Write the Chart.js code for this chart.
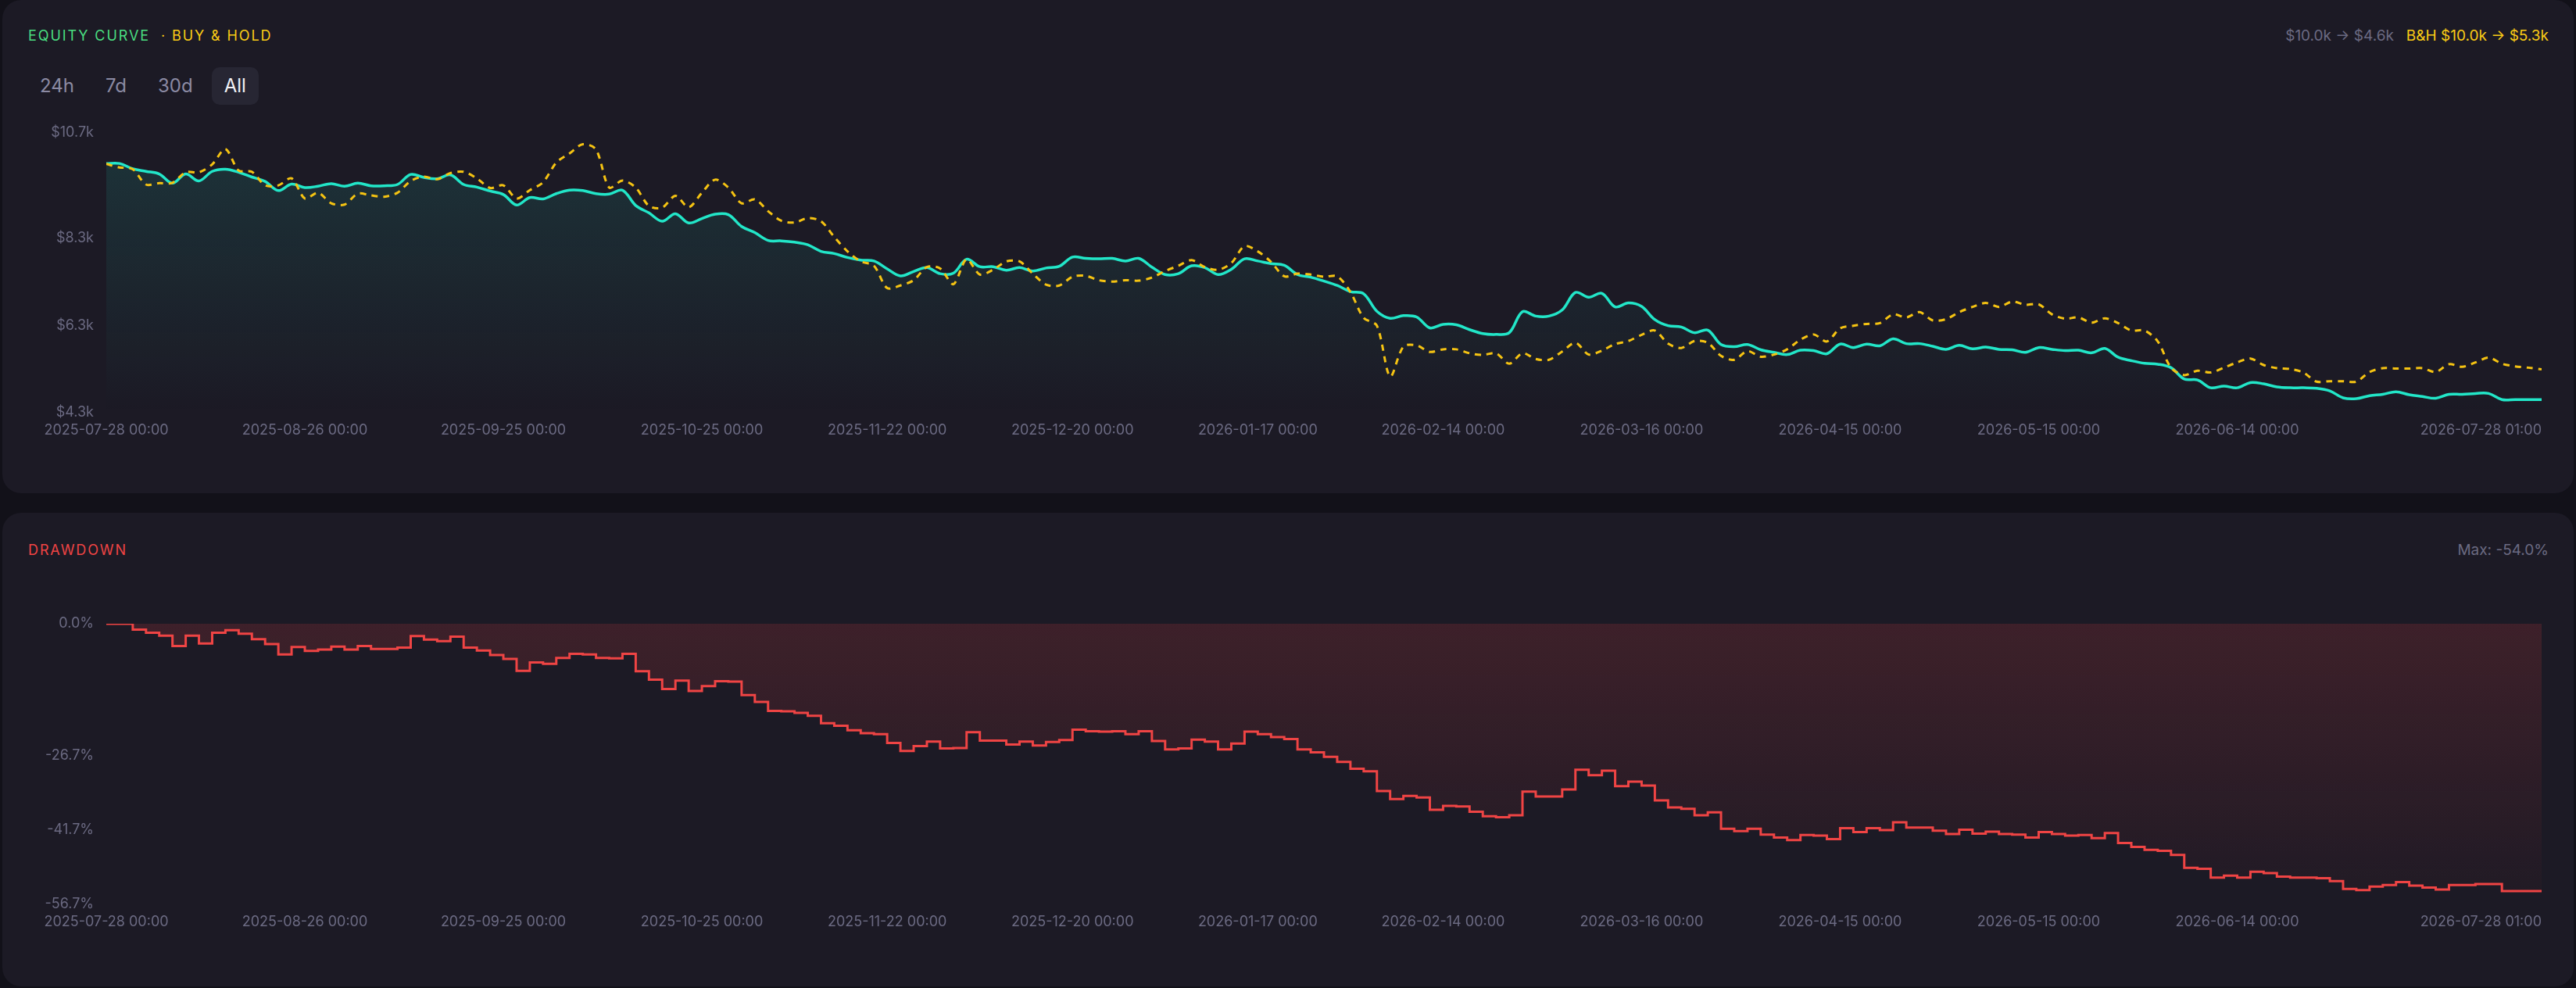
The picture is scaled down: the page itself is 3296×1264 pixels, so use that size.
<!DOCTYPE html>
<html>
<head>
<meta charset="utf-8">
<title>Equity curve</title>
<script src="https://cdn.jsdelivr.net/npm/chart.js@4.4.1/dist/chart.umd.min.js"></script>
<style>
  html, body { margin: 0; padding: 0; background: #121119; }
  body { width: 3296px; height: 1264px; position: relative; overflow: hidden; font-family: Inter, 'Noto Sans', sans-serif; }
  .card { position: absolute; left: 3px; width: 3290px; background: #1c1a25; border-radius: 24px; }
  #card1 { top: 0; height: 631px; }
  #card2 { top: 656px; height: 606px; }
  .title { position: absolute; left: 33px; font-size: 18px; font-weight: 400; letter-spacing: 1.9px; line-height: 22px; white-space: nowrap; }
  #card1 .title { top: 35px; color: #4ade80; }
  #card2 .title { top: 37px; color: #ef4444; }
  .title .bh { color: #facc15; margin-left: 14px; }
  .stats { position: absolute; right: 32px; font-size: 19px; line-height: 22px; color: #6b6a82; white-space: nowrap; }
  #card1 .stats { top: 35px; }
  #card2 .stats { top: 37px; }
  .stats .bh { color: #facc15; margin-left: 16px; }
  .ranges { position: absolute; left: 32px; top: 86px; display: flex; gap: 8px; }
  .ranges span { height: 48px; line-height: 48px; padding: 0 16px; font-size: 24px; font-weight: 400; color: #8b8aa3; border-radius: 10px; }
  .ranges span.on { background: #272633; color: #f2f2f6; }
  .wrap { position: absolute; left: 36px; width: 3216px; }
  #wrap1 { top: 150px; height: 418px; }
  #wrap2 { top: 778px; height: 419px; }
</style>
</head>
<body>

<div class="card" id="card1">
  <div class="title">EQUITY CURVE<span class="bh">· BUY &amp; HOLD</span></div>
  <div class="stats">$10.0k → $4.6k<span class="bh">B&amp;H $10.0k → $5.3k</span></div>
  <div class="ranges"><span>24h</span><span>7d</span><span>30d</span><span class="on">All</span></div>
</div>
<div class="card" id="card2">
  <div class="title">DRAWDOWN</div>
  <div class="stats">Max: -54.0%</div>
</div>

<div class="wrap" id="wrap1"><canvas id="equity"></canvas></div>
<div class="wrap" id="wrap2"><canvas id="drawdown"></canvas></div>

<script>
// one point per bar, bars are evenly spaced on the time axis
const xTickIndex = [0, 15, 30, 45, 59, 73, 87, 101, 116, 131, 146, 161, 184];
const xTickLabels = [
    '2025-07-28 00:00', '2025-08-26 00:00', '2025-09-25 00:00', '2025-10-25 00:00',
    '2025-11-22 00:00', '2025-12-20 00:00', '2026-01-17 00:00', '2026-02-14 00:00',
    '2026-03-16 00:00', '2026-04-15 00:00', '2026-05-15 00:00', '2026-06-14 00:00',
    '2026-07-28 01:00'
];

const equityTicks = [4300, 6300, 8300, 10700];
const drawdownTicks = [-56.7, -41.7, -26.7, 0];

const equity = [
    10000,10000,9880,9820,9760,9550,9760,9600,9820,9870,
    9800,9690,9590,9380,9530,9450,9480,9540,9480,9550,
    9490,9490,9520,9750,9680,9650,9740,9520,9460,9370,
    9290,9050,9220,9190,9310,9390,9380,9310,9300,9390,
    9040,8870,8680,8850,8640,8740,8840,8830,8560,8420,
    8240,8230,8200,8140,7990,7940,7850,7790,7770,7590,
    7430,7530,7620,7480,7490,7810,7640,7640,7560,7620,
    7540,7610,7650,7860,7830,7820,7830,7770,7830,7630,
    7460,7480,7660,7620,7460,7580,7820,7770,7710,7670,
    7460,7400,7310,7210,7070,7020,6620,6460,6520,6490,
    6240,6320,6310,6200,6110,6090,6130,6610,6510,6510,
    6650,7050,6940,7030,6720,6810,6730,6430,6290,6260,
    6130,6190,5860,5810,5860,5740,5680,5630,5730,5720,
    5650,5870,5790,5870,5830,5990,5880,5880,5820,5750,
    5840,5760,5800,5750,5740,5680,5790,5750,5720,5730,
    5670,5770,5570,5490,5430,5410,5330,5070,5050,4870,
    4910,4870,4990,4960,4890,4870,4870,4860,4800,4640,
    4620,4690,4720,4780,4710,4670,4630,4720,4720,4740,
    4740,4600,4600,4600,4600
];

const buyHold = [
    9990,9910,9870,9520,9550,9560,9800,9800,9980,10330,
    9840,9810,9500,9500,9660,9200,9330,9090,9060,9310,
    9270,9240,9330,9600,9700,9640,9780,9810,9660,9440,
    9500,9200,9390,9570,10020,10230,10440,10320,9450,9610,
    9450,9030,8990,9260,9000,9330,9630,9450,9090,9180,
    8910,8690,8650,8750,8680,8320,7990,7760,7660,7150,
    7210,7330,7630,7600,7240,7810,7460,7570,7760,7760,
    7480,7230,7210,7410,7430,7330,7300,7330,7320,7390,
    7540,7660,7790,7630,7570,7720,8110,7990,7750,7420,
    7480,7460,7410,7420,7060,6470,6290,5130,5810,5840,
    5690,5750,5750,5660,5620,5660,5420,5660,5530,5510,
    5700,5900,5630,5720,5870,5940,6080,6180,5880,5780,
    5940,5900,5600,5510,5710,5580,5630,5750,5970,6090,
    5930,6230,6290,6330,6350,6550,6480,6600,6410,6440,
    6600,6720,6810,6720,6840,6770,6780,6550,6450,6480,
    6360,6460,6350,6180,6180,5930,5330,5160,5260,5220,
    5330,5450,5540,5390,5320,5300,5220,5010,5020,5020,
    5010,5230,5320,5310,5310,5320,5230,5410,5350,5450,
    5560,5420,5360,5330,5290
];

const drawdown = [
    0,0,-1.2,-1.8,-2.4,-4.5,-2.4,-4.0,-1.8,-1.3,
    -2.0,-3.1,-4.1,-6.2,-4.7,-5.5,-5.2,-4.6,-5.2,-4.5,
    -5.1,-5.1,-4.8,-2.5,-3.2,-3.5,-2.6,-4.8,-5.4,-6.3,
    -7.1,-9.5,-7.8,-8.1,-6.9,-6.1,-6.2,-6.9,-7.0,-6.1,
    -9.6,-11.3,-13.2,-11.5,-13.6,-12.6,-11.6,-11.7,-14.4,-15.8,
    -17.6,-17.7,-18.0,-18.6,-20.1,-20.6,-21.5,-22.1,-22.3,-24.1,
    -25.7,-24.7,-23.8,-25.2,-25.1,-21.9,-23.6,-23.6,-24.4,-23.8,
    -24.6,-23.9,-23.5,-21.4,-21.7,-21.8,-21.7,-22.3,-21.7,-23.7,
    -25.4,-25.2,-23.4,-23.8,-25.4,-24.2,-21.8,-22.3,-22.9,-23.3,
    -25.4,-26.0,-26.9,-27.9,-29.3,-29.8,-33.8,-35.4,-34.8,-35.1,
    -37.6,-36.8,-36.9,-38.0,-38.9,-39.1,-38.7,-33.9,-34.9,-34.9,
    -33.5,-29.5,-30.6,-29.7,-32.8,-31.9,-32.7,-35.7,-37.1,-37.4,
    -38.7,-38.1,-41.4,-41.9,-41.4,-42.6,-43.2,-43.7,-42.7,-42.8,
    -43.5,-41.3,-42.1,-41.3,-41.7,-40.1,-41.2,-41.2,-41.8,-42.5,
    -41.6,-42.4,-42.0,-42.5,-42.6,-43.2,-42.1,-42.5,-42.8,-42.7,
    -43.3,-42.3,-44.3,-45.1,-45.7,-45.9,-46.7,-49.3,-49.5,-51.3,
    -50.9,-51.3,-50.1,-50.4,-51.1,-51.3,-51.3,-51.4,-52.0,-53.6,
    -53.8,-53.1,-52.8,-52.2,-52.9,-53.3,-53.7,-52.8,-52.8,-52.6,
    -52.6,-54.0,-54.0,-54.0,-54.0
];

Chart.defaults.font.family = "Inter, 'Noto Sans', sans-serif";
Chart.defaults.font.size = 18;
Chart.defaults.color = '#6b6a82';

function points(values) {
    return values.map((v, i) => ({x: i, y: v}));
}

function fade(rgb, top, bottom) {
    return function (context) {
        const area = context.chart.chartArea;
        if (!area) return 'transparent';
        const g = context.chart.ctx.createLinearGradient(0, area.top, 0, area.bottom);
        g.addColorStop(0, 'rgba(' + rgb + ',' + top + ')');
        g.addColorStop(1, 'rgba(' + rgb + ',' + bottom + ')');
        return g;
    };
}

// x axis shared by both charts: first label centred, last one kept inside
function timeAxis() {
    return {
        type: 'linear',
        min: 0,
        max: equity.length - 1,
        grid: {display: false, drawTicks: false},
        border: {display: false},
        afterBuildTicks: function (scale) {
            scale.ticks = [0].concat(xTickIndex).map(v => ({value: v}));
        },
        afterFit: function (scale) {
            scale.height = 40;
            scale.paddingLeft = 0;
            scale.paddingRight = 0;
        },
        ticks: {
            autoSkip: false,
            maxRotation: 0,
            minRotation: 0,
            align: 'inner',
            padding: 12,
            color: '#6b6a82',
            callback: (v, i) => i === 0 ? '' : xTickLabels[i - 1]
        }
    };
}

function valueAxis(min, max, values, format) {
    return {
        min: min,
        max: max,
        grid: {display: false, drawTicks: false},
        border: {display: false},
        afterBuildTicks: function (scale) {
            scale.ticks = values.map(v => ({value: v}));
        },
        afterFit: function (scale) {
            scale.width = 100;
            scale.paddingTop = 0;
            scale.paddingBottom = 0;
        },
        ticks: {
            padding: 16,
            color: '#6b6a82',
            callback: format
        }
    };
}

const common = {
    responsive: true,
    maintainAspectRatio: false,
    animation: false,
    events: [],
    layout: {padding: {top: 20, left: 0, right: 0, bottom: 0}},
    plugins: {legend: {display: false}, tooltip: {enabled: false}}
};

new Chart(document.getElementById('equity'), {
    type: 'line',
    data: {
        datasets: [{
            label: 'Buy & Hold',
            data: points(buyHold),
            borderColor: '#f5c312',
            borderWidth: 3,
            borderDash: [8, 7],
            pointRadius: 0,
            tension: 0.3,
            fill: false
        }, {
            label: 'Equity',
            data: points(equity),
            borderColor: '#22e6c8',
            borderWidth: 3.5,
            pointRadius: 0,
            tension: 0.35,
            fill: 'start',
            backgroundColor: fade('34,230,200', 0.13, 0.0)
        }]
    },
    options: Object.assign({}, common, {
        scales: {
            x: timeAxis(),
            y: valueAxis(4300, 10700, equityTicks, v => '$' + (v / 1000).toFixed(1) + 'k')
        }
    })
});

new Chart(document.getElementById('drawdown'), {
    type: 'line',
    data: {
        datasets: [{
            label: 'Drawdown',
            data: points(drawdown),
            borderColor: '#ef4444',
            borderWidth: 3,
            stepped: 'before',
            pointRadius: 0,
            fill: 'origin',
            backgroundColor: fade('239,68,68', 0.16, 0.02)
        }]
    },
    options: Object.assign({}, common, {
        scales: {
            x: timeAxis(),
            y: valueAxis(-56.7, 0, drawdownTicks, v => v.toFixed(1) + '%')
        }
    })
});
</script>
</body>
</html>
